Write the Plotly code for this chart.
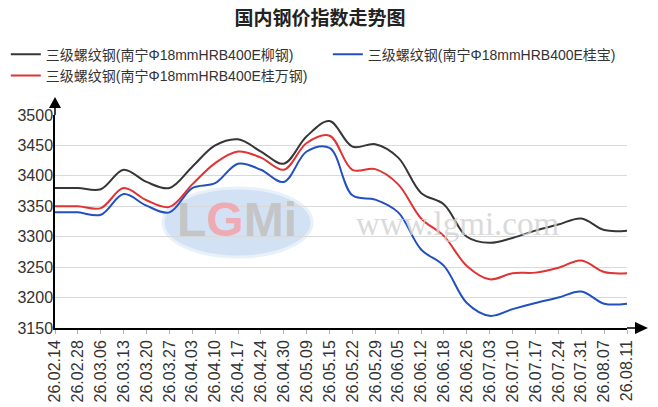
import plotly.graph_objects as go

# weekly dates (category axis)
dates = ["26.02.14", "26.02.28", "26.03.06", "26.03.13", "26.03.20", "26.03.27",
         "26.04.03", "26.04.10", "26.04.17", "26.04.24", "26.04.30", "26.05.09",
         "26.05.15", "26.05.22", "26.05.29", "26.06.05", "26.06.12", "26.06.18",
         "26.06.26", "26.07.03", "26.07.10", "26.07.17", "26.07.24", "26.07.31",
         "26.08.07", "26.08.11"]

# 三级螺纹钢 Φ18mm HRB400E, Nanning
liugang = [3380, 3380, 3378, 3410, 3390, 3380, 3415, 3450, 3460, 3440, 3420, 3465,
           3490, 3448, 3452, 3430, 3372, 3353, 3300, 3290, 3298, 3310, 3320, 3330,
           3311, 3310]
guibao = [3340, 3340, 3336, 3370, 3351, 3340, 3380, 3388, 3420, 3410, 3390, 3440,
          3446, 3368, 3361, 3340, 3279, 3252, 3191, 3170, 3181, 3191, 3200, 3210,
          3190, 3190]
guiwan = [3350, 3350, 3347, 3380, 3360, 3349, 3386, 3421, 3440, 3430, 3410, 3454,
          3466, 3410, 3411, 3386, 3330, 3301, 3252, 3230, 3240, 3241, 3249, 3261,
          3242, 3240]

series = [
    ("三级螺纹钢(南宁Φ18mmHRB400E柳钢)", liugang, "#363636", "legend"),
    ("三级螺纹钢(南宁Φ18mmHRB400E桂宝)", guibao, "#2250c0", "legend2"),
    ("三级螺纹钢(南宁Φ18mmHRB400E桂万钢)", guiwan, "#e03333", "legend"),
]

fig = go.Figure()
for name, vals, color, leg in series:
    fig.add_trace(go.Scatter(x=dates, y=vals, name=name, mode="lines",
                             line=dict(color=color, width=2, shape="spline", smoothing=1.0),
                             legend=leg))

tick_font = dict(family="Liberation Sans, Arial", size=16, color="#333333")
legend_font = dict(family="Liberation Sans, Noto Sans CJK SC", size=14, color="#333333")

W, H = 658, 407
fig.update_layout(
    width=W, height=H,
    margin=dict(l=55, r=31, t=115, b=79, autoexpand=False),
    paper_bgcolor="white", plot_bgcolor="white",
    title=dict(text="<b>国内钢价指数走势图</b>", x=320 / W, xanchor="center",
               y=1 - 18 / H, yanchor="middle",
               font=dict(family="Noto Sans CJK SC", size=19, color="#222222")),
    legend=dict(orientation="v", x=-0.086, y=1.358, xanchor="left", yanchor="top",
                tracegroupgap=0, font=legend_font, itemwidth=30,
                bgcolor="rgba(0,0,0,0)"),
    legend2=dict(orientation="v", x=0.477, y=1.358, xanchor="left", yanchor="top",
                 font=legend_font, itemwidth=30, bgcolor="rgba(0,0,0,0)"),
    showlegend=True,
)

fig.update_xaxes(type="category", range=[0, len(dates) - 1], tickangle=-90,
                 showgrid=False, showline=True, linecolor="black", linewidth=1.5,
                 ticks="outside", ticklen=4, tickcolor="#b0b0b0", tickwidth=1,
                 tickfont=tick_font, zeroline=False)
fig.update_yaxes(range=[3150, 3500], dtick=50, showgrid=True, gridcolor="#d9d9d9",
                 gridwidth=1, showline=True, linecolor="black", linewidth=1.5,
                 ticks="", ticklabelstandoff=-3, tickfont=tick_font, zeroline=False)

# axis arrows (pixel positions converted to paper units)
pw, ph = 572.0, 213.0
fig.add_shape(type="line", xref="paper", yref="paper", x0=1, x1=(636 - 55) / pw, y0=0, y1=0,
              line=dict(color="black", width=1.5))
fig.add_shape(type="path", xref="paper", yref="paper",
              path=f"M {(635-55)/pw},{6/ph} L {(648-55)/pw},0 L {(635-55)/pw},{-6/ph} Z",
              fillcolor="black", line=dict(color="black", width=0))
fig.add_shape(type="line", xref="paper", yref="paper", x0=0, x1=0, y0=1, y1=(328 - 107) / ph,
              line=dict(color="black", width=1.5))
fig.add_shape(type="path", xref="paper", yref="paper",
              path=f"M {-6/pw},{(328-108)/ph} L 0,{(328-97)/ph} L {6/pw},{(328-108)/ph} Z",
              fillcolor="black", line=dict(color="black", width=0))

# watermark
fig.add_shape(type="circle", xref="paper", yref="paper", layer="below",
              x0=(163 - 55) / pw, x1=(312 - 55) / pw, y0=(328 - 257) / ph, y1=(328 - 188) / ph,
              fillcolor="#d2e2f4", line=dict(color="#e8f0fa", width=3))
fig.add_annotation(xref="paper", yref="paper", x=(237 - 55) / pw, y=(328 - 219) / ph,
                   xanchor="center", yanchor="middle",
                   text="<b>L<span style='color:#f2a6ae'>G</span>Mi</b>", showarrow=False,
                   font=dict(family="Liberation Sans", size=48, color="#c2c2c2"), opacity=0.9)
fig.add_annotation(xref="paper", yref="paper", x=(458 - 55) / pw, y=(328 - 224) / ph,
                   xanchor="center", yanchor="middle",
                   text="www.lgmi.com", showarrow=False,
                   font=dict(family="Liberation Serif", size=33, color="#d2d2d2"), opacity=0.8)

# drop the default 8px body margin so the figure fills the window
fig.write_html("out.html", config={"displayModeBar": False},
               post_script="document.body.style.margin='0';")
